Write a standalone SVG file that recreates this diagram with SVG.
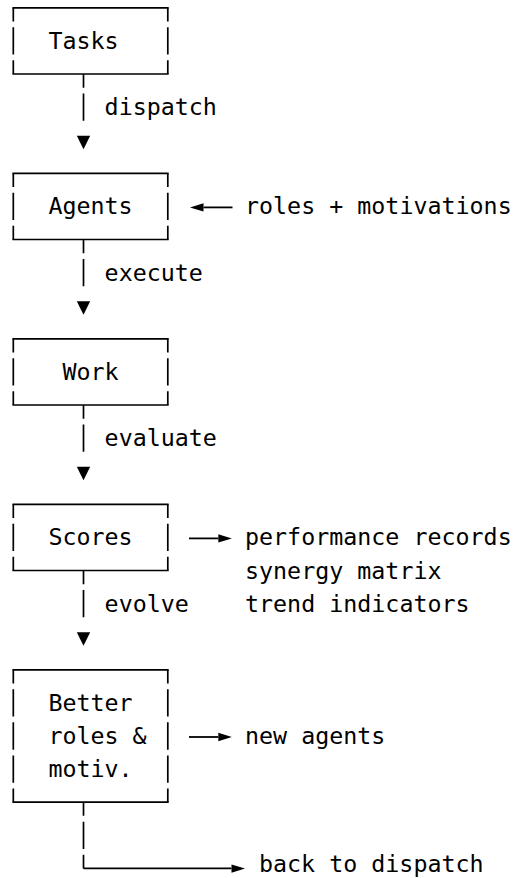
<svg xmlns="http://www.w3.org/2000/svg" xmlns:xlink="http://www.w3.org/1999/xlink" width="515" height="878" viewBox="0 0 515 878">
  <style>
    text { font-family: "DejaVu Sans Mono", "Liberation Mono", monospace; font-size: 23.32px; fill: #000; }
    .h { stroke: #000; stroke-width: 1.7; stroke-linecap: square; fill: none; }
    .v { stroke: #000; stroke-width: 1.7; stroke-linecap: butt; fill: none; stroke-dasharray: 27.3 5.8; stroke-dashoffset: 13.65; }
    .s { stroke: #000; stroke-width: 1.8; stroke-linecap: butt; fill: none; }
    .tip { fill: #000; }
  </style>
  <defs>
    <marker id="head" markerUnits="userSpaceOnUse" markerWidth="14" markerHeight="9" refX="0" refY="4.2" orient="auto" overflow="visible">
      <path d="M0,0 L13.5,4.2 L0,8.4 Z" fill="#000"/>
    </marker>
    <path id="down" d="M-6.7,0 H6.7 L0,13.5 Z"/>
  </defs>

  <g id="node-tasks">
    <path class="h" d="M13.3,7.8 H167.8 M13.3,74 H167.8"/>
    <path class="v" d="M13.3,7.8 V74 M167.8,7.8 V74"/>
    <text x="48.4" y="48.97">Tasks</text>
  </g>

  <g id="node-agents">
    <path class="h" d="M13.3,173.3 H167.8 M13.3,239.5 H167.8"/>
    <path class="v" d="M13.3,173.3 V239.5 M167.8,173.3 V239.5"/>
    <text x="48.4" y="214.47">Agents</text>
  </g>

  <g id="node-work">
    <path class="h" d="M13.3,338.8 H167.8 M13.3,405 H167.8"/>
    <path class="v" d="M13.3,338.8 V405 M167.8,338.8 V405"/>
    <text x="62.5" y="379.97">Work</text>
  </g>

  <g id="node-scores">
    <path class="h" d="M13.3,504.3 H167.8 M13.3,570.5 H167.8"/>
    <path class="v" d="M13.3,504.3 V570.5 M167.8,504.3 V570.5"/>
    <text x="48.4" y="545.47">Scores</text>
  </g>

  <g id="node-better">
    <path class="h" d="M13.3,669.8 H167.8 M13.3,802.2 H167.8"/>
    <path class="v" d="M13.3,669.8 V802.2 M167.8,669.8 V802.2"/>
    <text x="48.4" y="710.97">Better</text>
    <text x="48.4" y="744.07">roles &amp;</text>
    <text x="48.4" y="777.17">motiv.</text>
  </g>

  <g id="annotations">
    <text x="245" y="214.47">roles + motivations</text>
    <text x="245" y="545.47">performance records</text>
    <text x="245" y="578.57">synergy matrix</text>
    <text x="245" y="611.67">trend indicators</text>
    <text x="245" y="744.07">new agents</text>
    <text x="259" y="872">back to dispatch</text>
  </g>

  <g id="connectors">
    <path class="v" d="M83.5,74 V120.75"/>
    <use xlink:href="#down" class="tip" x="83.5" y="135.7"/>
    <text x="104.6" y="115.17">dispatch</text>

    <path class="v" d="M83.5,239.5 V286.25"/>
    <use xlink:href="#down" class="tip" x="83.5" y="301.2"/>
    <text x="104.6" y="280.67">execute</text>

    <path class="v" d="M83.5,405 V451.75"/>
    <use xlink:href="#down" class="tip" x="83.5" y="466.7"/>
    <text x="104.6" y="446.17">evaluate</text>

    <path class="v" d="M83.5,570.5 V617.25"/>
    <use xlink:href="#down" class="tip" x="83.5" y="632.2"/>
    <text x="104.6" y="611.67">evolve</text>

    <path class="s" d="M232.5,207.4 H203.5" marker-end="url(#head)"/>
    <path class="s" d="M189,538.4 H218.3" marker-end="url(#head)"/>
    <path class="s" d="M189,737 H218.3" marker-end="url(#head)"/>

    <path class="v" d="M83.5,802.2 V868.4"/>
    <path class="h" d="M83.5,868.4 H231.5" style="stroke-linecap:butt"/>
    <path class="s" d="M230,868.6 H231.5" marker-end="url(#head)" style="stroke:none"/>
  </g>
</svg>
